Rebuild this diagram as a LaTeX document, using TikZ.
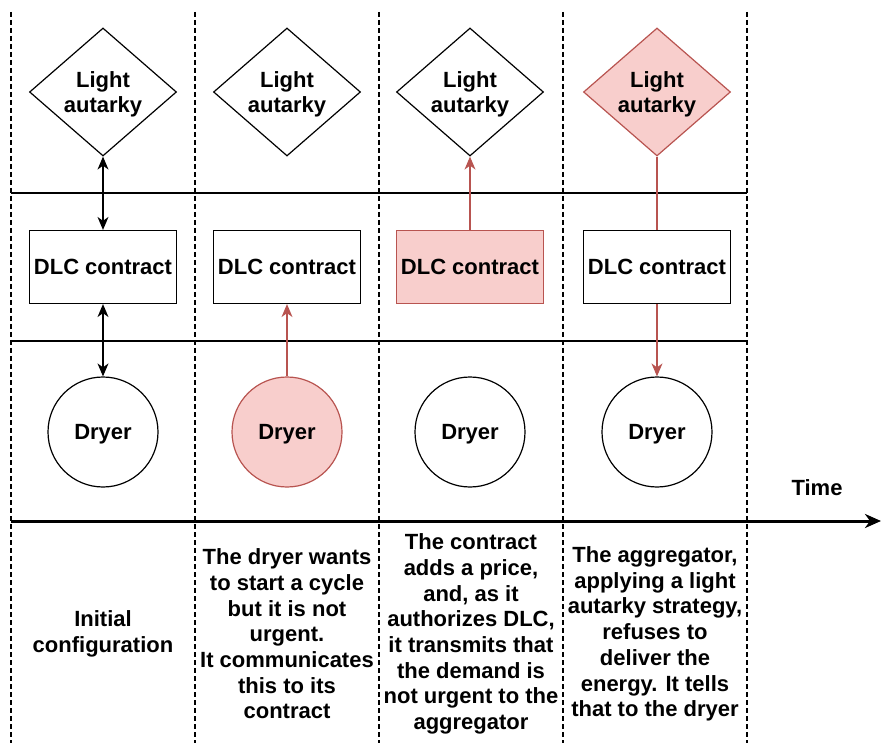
\documentclass[tikz,border=0pt]{standalone}
\usepackage{fontspec}
\setmainfont{Liberation Sans}
\usetikzlibrary{shapes.geometric,arrows.meta}
\definecolor{hotfill}{HTML}{F8CECC}
\definecolor{hotline}{HTML}{B85450}
\begin{document}
\begin{tikzpicture}[x=1pt,y=-1pt,
  every node/.style={font=\bfseries\fontsize{22}{25.7}\selectfont,align=center},
  lightaut/.style={diamond,draw,line width=1.2pt,inner sep=0pt,text depth=0pt,minimum width=147pt,minimum height=128pt},
  dlcbox/.style={rectangle,draw,line width=1.2pt,minimum width=147pt,minimum height=73pt},
  dryer/.style={circle,draw,line width=1.2pt,text depth=0pt,minimum size=110pt},
  hot/.style={fill=hotfill,draw=hotline},
  tip/.tip={Stealth[length=13pt,width=11pt,inset=4pt]},
  link/.style={line width=1.2pt,-tip},
  both/.style={line width=1.2pt,tip-tip},
  sep/.style={dashed,dash pattern=on 5pt off 3pt,line width=1.2pt}]
\useasboundingbox (0,0) rectangle (881,743);

% time slots
\foreach \x in {11,195,379,563,747}
  \draw[sep] (\x,12) -- (\x,743);
\draw[line width=1.2pt] (11,193) -- (747,193);
\draw[line width=1.2pt] (11,341) -- (747,341);

% strategy
\node[lightaut] at (103,92) (L1) {Light\\autarky};
\node[lightaut] at (287,92) (L2) {Light\\autarky};
\node[lightaut] at (470,92) (L3) {Light\\autarky};
\node[lightaut,hot] at (657,92) (L4) {Light\\autarky};

% contract
\node[dlcbox] at (103,267) (C1) {DLC contract};
\node[dlcbox] at (287,267) (C2) {DLC contract};
\node[dlcbox,hot] at (470,267) (C3) {DLC contract};
\node[dlcbox] at (657,267) (C4) {DLC contract};

% appliance
\node[dryer] at (103,432) (D1) {Dryer};
\node[dryer,hot] at (287,432) (D2) {Dryer};
\node[dryer] at (470,432) (D3) {Dryer};
\node[dryer] at (657,432) (D4) {Dryer};

\draw[both] (L1.south) -- (C1.north);
\draw[both] (C1.south) -- (D1.north);
\draw[link,hotline] (D2.north) -- (C2.south);
\draw[link,hotline] (C3.north) -- (L3.south);
\draw[line width=1.2pt,hotline] (L4.south) -- (C4.north);
\draw[link,hotline] (C4.south) -- (D4.north);

% time axis
\coordinate (T0) at (11,521);
\coordinate (T1) at (881,521);
\draw[line width=3pt,-{Stealth[length=16pt,width=14pt,inset=5pt]}] (T0) -- (T1);
\node at (817,488) (time) {Time};

\node at (103,634) (S1) {Initial\\configuration};
\node at (287,634) (S2) {The dryer wants\\to start a cycle\\but it is not\\urgent.\\It communicates\\this to its\\contract};
\node at (471,634) (S3) {The contract\\adds a price,\\and, as it\\authorizes DLC,\\it transmits that\\the demand is\\not urgent to the\\aggregator};
\node at (655,634) (S4) {The aggregator,\\applying a light\\autarky strategy,\\refuses to\\deliver the\\energy. It tells\\that to the dryer};
\end{tikzpicture}
\end{document}
